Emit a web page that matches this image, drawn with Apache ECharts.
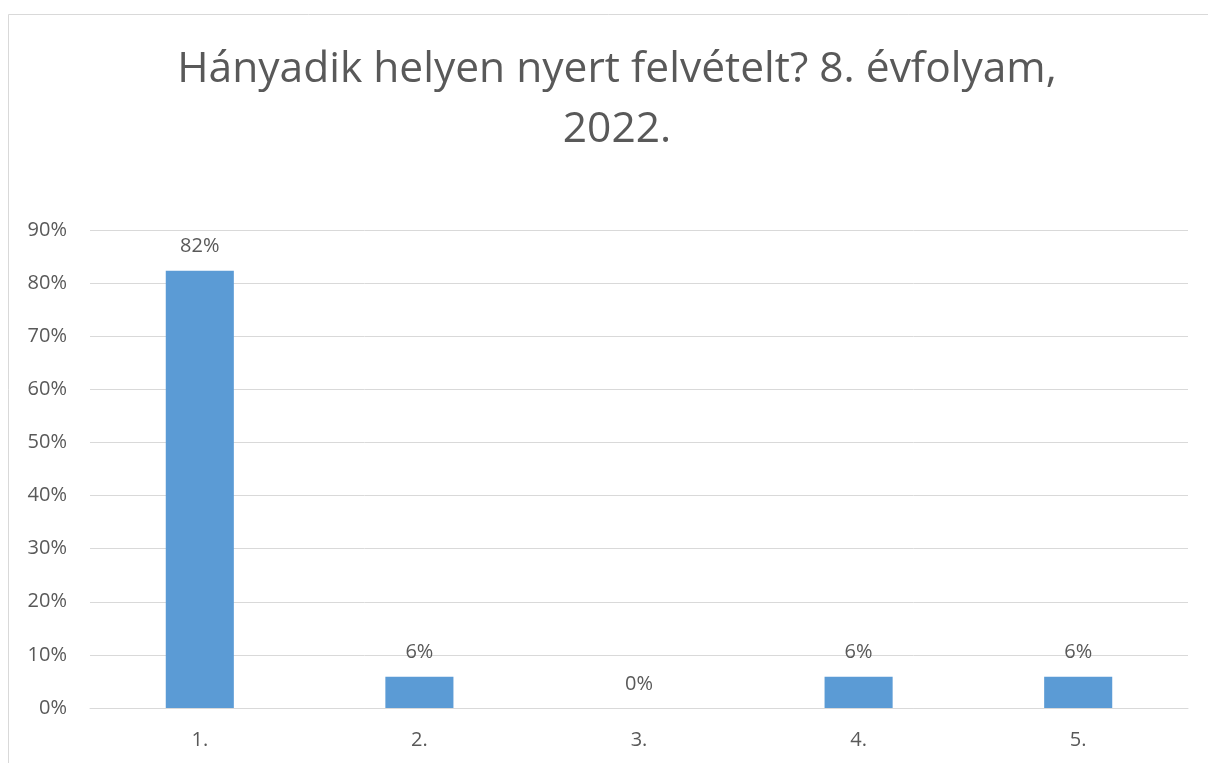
<!DOCTYPE html>
<html>
<head>
<meta charset="utf-8">
<script src="https://cdn.jsdelivr.net/npm/echarts@6/dist/echarts.min.js"></script>
<style>
html,body{margin:0;padding:0;background:#fff;}
#c{width:1208px;height:763px;}
</style>
</head>
<body>
<div id="c"></div>
<script>
const titleText = "Hányadik helyen nyert felvételt? 8. évfolyam,\n2022.";
const categories = ["1.", "2.", "3.", "4.", "5."];
const values = [0.8235, 0.0588, 0, 0.0588, 0.0588];
const yTicks = [0, 0.1, 0.2, 0.3, 0.4, 0.5, 0.6, 0.7, 0.8, 0.9];

const font = "'Open Sans', 'Noto Sans', sans-serif";
const grey = "#595959";
const chart = echarts.init(document.getElementById('c'), null, {renderer: 'canvas'});
chart.setOption({
  animation: false,
  backgroundColor: '#fff',
  graphic: [{
    type: 'rect',
    shape: {x: 8.5, y: 14.5, width: 1400, height: 900},
    style: {fill: 'none', stroke: '#d9d9d9', lineWidth: 1},
    silent: true
  }, {
    type: 'text',
    x: 617,
    y: 40,
    silent: true,
    style: {
      text: titleText,
      fontFamily: font, fontSize: 42.5, fill: grey,
      lineHeight: 60, textAlign: 'center', textVerticalAlign: 'top', align: 'center'
    }
  }],
  grid: {left: 90, right: 20, top: 230, bottom: 55, containLabel: false},
  xAxis: {
    type: 'category',
    data: categories,
    axisLine: {lineStyle: {color: '#d9d9d9'}},
    axisTick: {show: false},
    axisLabel: {fontFamily: font, fontSize: 20, color: grey, margin: 22}
  },
  yAxis: {
    type: 'value',
    min: yTicks[0],
    max: yTicks[yTicks.length - 1],
    interval: 0.1,
    axisLine: {show: false},
    axisTick: {show: false},
    splitLine: {lineStyle: {color: '#d9d9d9', width: 1}},
    axisLabel: {fontFamily: font, fontSize: 20, color: grey, margin: 23,
      formatter: v => Math.round(v * 100) + '%'}
  },
  series: [{
    type: 'bar',
    data: values,
    barWidth: '31%',
    itemStyle: {color: '#5b9bd5'},
    label: {
      show: true, position: 'top', distance: 14,
      fontFamily: font, fontSize: 20, color: grey,
      formatter: p => Math.round(p.value * 100) + '%'
    }
  }]
});
</script>
</body>
</html>
